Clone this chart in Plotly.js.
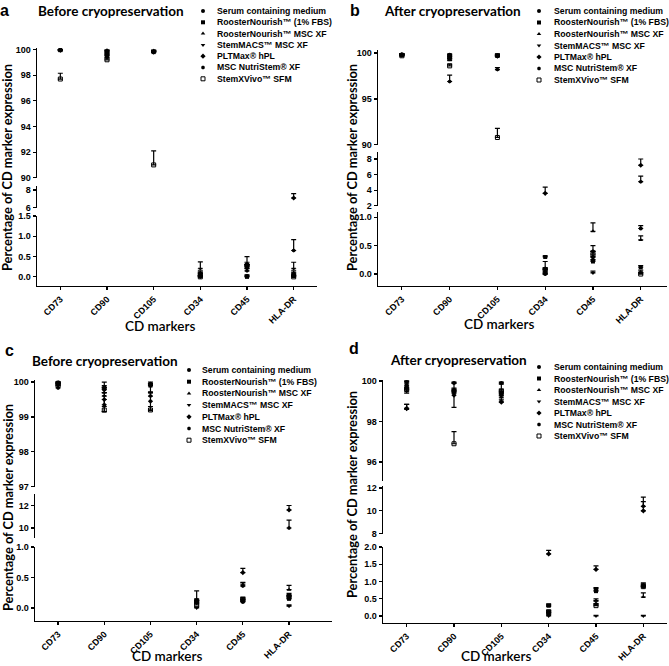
<!DOCTYPE html>
<html><head><meta charset="utf-8">
<script src="https://cdn.plot.ly/plotly-3.0.1.min.js"></script>
<style>html,body{margin:0;padding:0;background:#fff}#chart{width:669px;height:666px}</style>
</head><body><div id="chart"></div>
<script>
const categories = ["CD73","CD90","CD105","CD34","CD45","HLA-DR"];
const seriesNames = ["Serum containing medium","RoosterNourish™ (1% FBS)","RoosterNourish™ MSC XF","StemMACS™ MSC XF","PLTMax® hPL","MSC NutriStem® XF","StemXVivo™ SFM"];
const symbols = ["circle","square","triangle-up","triangle-down","diamond","hexagon","square-open"];

// Panel a — Before cryopreservation (rows = series, cols = categories)
const aValues = [
  [99.98, 99.85, 99.85, 0.00, 0.02, 0.05],
  [99.95, 99.70, 99.80, 0.05, 0.00, 0.02],
  [99.95, 99.50, 99.90, 0.10, 0.25, 0.10],
  [99.90, 99.60, 99.75, 0.20, 0.20, 0.20],
  [99.98, 99.90, 99.85, 0.02, 0.30, 7.10],
  [99.95, 99.40, 99.80, 0.08, 0.15, 0.65],
  [97.70, 99.20, 91.00, 0.00, 0.28, 0.00]
];
const aErrUp = [
  [0.02, 0.10, 0.05, 0.03, 0.03, 0.04],
  [0.03, 0.10, 0.10, 0.04, 0.02, 0.03],
  [0.03, 0.15, 0.05, 0.05, 0.05, 0.05],
  [0.05, 0.15, 0.08, 0.17, 0.10, 0.16],
  [0.02, 0.05, 0.08, 0.03, 0.20, 0.50],
  [0.03, 0.15, 0.10, 0.04, 0.06, 0.27],
  [0.45, 0.15, 1.10, 0.03, 0.08, 0.03]
];
const aErrDown = [
  [0,0,0,0,0,0],[0,0,0,0,0,0],[0,0,0,0,0,0],[0,0,0,0,0,0],
  [0,0,0,0,0,0],[0,0,0,0,0,0],[0,0,0,0,0,0]
];

// Panel b — After cryopreservation
const bValues = [
  [99.85, 99.80, 99.75, 0.00, 0.25, 0.80],
  [99.80, 99.50, 99.70, 0.30, 0.22, 0.12],
  [99.75, 99.20, 99.60, 0.10, 0.75, 0.60],
  [99.70, 99.70, 99.80, 0.00, 0.02, 0.03],
  [99.80, 99.40, 99.65, 3.60, 0.30, 7.20],
  [99.85, 96.90, 98.20, 0.05, 0.40, 5.10],
  [99.70, 98.60, 90.80, 0.08, 0.35, 0.00]
];
const bErrUp = [
  [0.10, 0.10, 0.10, 0.02, 0.05, 0.05],
  [0.10, 0.15, 0.10, 0.02, 0.03, 0.03],
  [0.10, 0.15, 0.10, 0.12, 0.15, 0.07],
  [0.10, 0.10, 0.10, 0.02, 0.03, 0.04],
  [0.10, 0.20, 0.10, 0.80, 0.10, 0.80],
  [0.10, 0.70, 0.20, 0.03, 0.10, 0.70],
  [0.10, 0.20, 1.00, 0.03, 0.05, 0.02]
];
const bErrDown = [
  [0,0,0,0,0,0],[0,0,0,0,0,0],[0,0,0,0,0,0],[0,0,0,0,0,0],
  [0,0,0,0,0,0],[0,0,0,0,0,0],[0,0,0,0,0,0]
];

// Panel c — Before cryopreservation
const cValues = [
  [99.95, 99.85, 99.95, 0.12, 0.10, 0.20],
  [99.98, 99.80, 99.90, 0.10, 0.12, 0.15],
  [100.00, 99.70, 99.70, 0.08, 0.38, 0.30],
  [99.90, 99.60, 99.90, 0.00, 0.11, 0.03],
  [99.95, 99.50, 99.45, 0.13, 0.58, 11.60],
  [99.83, 99.35, 99.60, 0.09, 0.36, 10.00],
  [99.90, 99.20, 99.20, 0.05, 0.14, 0.18]
];
const cErrUp = [
  [0.03, 0.15, 0.05, 0.03, 0.05, 0.04],
  [0.02, 0.10, 0.05, 0.03, 0.06, 0.05],
  [0.00, 0.10, 0.25, 0.03, 0.04, 0.07],
  [0.05, 0.10, 0.05, 0.02, 0.03, 0.02],
  [0.05, 0.35, 0.27, 0.15, 0.07, 0.40],
  [0.17, 0.15, 0.10, 0.03, 0.05, 0.70],
  [0.05, 0.10, 0.10, 0.03, 0.03, 0.04]
];
const cErrDown = [
  [0,0,0,0,0,0],[0,0,0,0,0,0],[0,0,0,0,0,0],[0,0,0,0,0,0],
  [0,0.35,0.27,0,0,0],[0,0,0,0,0,0],[0,0.05,0,0,0,0]
];

// Panel d — After cryopreservation
const dValues = [
  [99.95, 99.90, 99.90, 0.10, 0.75, 0.85],
  [99.70, 99.50, 99.40, 0.30, 0.72, 0.88],
  [99.50, 99.40, 99.20, 0.28, 0.45, 0.55],
  [98.60, 99.45, 99.00, 0.00, 0.00, 0.00],
  [98.65, 99.30, 98.95, 1.80, 1.35, 10.00],
  [99.80, 99.55, 99.30, 0.05, 0.35, 10.40],
  [99.60, 96.90, 99.50, 0.12, 0.30, 0.85]
];
const dErrUp = [
  [0.05, 0.05, 0.05, 0.05, 0.05, 0.05],
  [0.30, 0.10, 0.10, 0.05, 0.10, 0.08],
  [0.10, 0.10, 0.10, 0.05, 0.05, 0.12],
  [0.25, 0.10, 0.10, 0.03, 0.02, 0.02],
  [0.20, 0.60, 0.90, 0.10, 0.10, 1.20],
  [0.10, 0.10, 0.10, 0.04, 0.08, 0.40],
  [0.10, 0.60, 0.10, 0.05, 0.05, 0.08]
];
const dErrDown = [
  [0,0,0,0,0,0],[0.3,0,0,0,0,0],[0,0,0,0,0,0],[0,0,0,0,0,0],
  [0,0.6,0,0,0,0],[0,0,0,0,0,0],[0,0,0,0,0,0]
];

const W = 669, H = 666;
const px = v => v / W;
const py = v => 1 - v / H;
const axId = (l, n) => n === 1 ? l : l + n;
const axKey = (l, n) => l + 'axis' + (n === 1 ? '' : n);

// layout geometry (pixels)
const panels = [
  { letter:'a', title:'Before cryopreservation', values:aValues, up:aErrUp, down:aErrDown,
    xDom:[37,317], xRange:[-0.5,5.5],
    segs:[{dom:[286,216], range:[-0.225,1.5], dtick:0.5, fmt:'.1f'},
          {dom:[208,186], range:[5.98,8.45], dtick:2},
          {dom:[178,48],  range:[89.98,100.12], dtick:2}],
    letterPos:[4,0], titlePos:[36,11], yTitlePos:[7,168], xTitlePos:[160,326],
    legMarkX:203, legTextX:215, legY0:11, legDy:11.3 },
  { letter:'b', title:'After cryopreservation', values:bValues, up:bErrUp, down:bErrDown,
    xDom:[378,667], xRange:[-0.5,5.55],
    segs:[{dom:[286,212], range:[-0.21,1.09], dtick:0.5, fmt:'.1f'},
          {dom:[206,152], range:[1.98,8.9], dtick:2},
          {dom:[145,50],  range:[89.98,100.33], dtick:5}],
    letterPos:[355,0], titlePos:[382,11], yTitlePos:[352,168], xTitlePos:[499,324],
    legMarkX:539, legTextX:552, legY0:11, legDy:11.5 },
  { letter:'c', title:'Before cryopreservation', values:cValues, up:cErrUp, down:cErrDown,
    xDom:[35,332], xRange:[-0.5,5.93],
    segs:[{dom:[621,547], range:[-0.213,1.0], dtick:0.5, fmt:'.1f'},
          {dom:[538,494], range:[9.11,13.02], dtick:2},
          {dom:[487,380], range:[96.99,100.06], dtick:1}],
    letterPos:[9,340], titlePos:[30,361], yTitlePos:[8,508], xTitlePos:[167,656],
    legMarkX:189, legTextX:200, legY0:370, legDy:11.7 },
  { letter:'d', title:'After cryopreservation', values:dValues, up:dErrUp, down:dErrDown,
    xDom:[383,667], xRange:[-0.5,5.5],
    segs:[{dom:[623,547], range:[-0.203,2.0], dtick:0.5, fmt:'.1f'},
          {dom:[534,486], range:[7.98,12.17], dtick:2},
          {dom:[481,380], range:[95.06,100.05], dtick:2}],
    letterPos:[354,338], titlePos:[388,360], yTitlePos:[352,495], xTitlePos:[496,656],
    legMarkX:539, legTextX:552, legY0:367, legDy:11.5 }
];

const tickFont = {family:'Arial', size:9, weight:'bold', color:'#000'};
const traces = [];
const layout = {
  width:W, height:H, margin:{l:0,r:0,t:0,b:0},
  paper_bgcolor:'#fff', plot_bgcolor:'rgba(0,0,0,0)',
  showlegend:false, font:{family:'Arial', color:'#000'},
  annotations:[]
};

panels.forEach((p, pi) => {
  const xn = pi + 1;
  const xId = axId('x', xn);
  const bottomY = axId('y', pi*3 + 1);
  layout[axKey('x', xn)] = {
    domain:[px(p.xDom[0]), px(p.xDom[1])], range:p.xRange, type:'category',
    anchor:bottomY, showline:true, linecolor:'#000', linewidth:1.4,
    ticks:'outside', ticklen:3, tickwidth:1.2, tickcolor:'#000',
    tickangle:-45, tickfont:tickFont, showgrid:false, zeroline:false, fixedrange:true
  };
  p.segs.forEach((s, si) => {
    const yn = pi*3 + si + 1;
    const yId = axId('y', yn);
    layout[axKey('y', yn)] = {
      domain:[py(s.dom[0]), py(s.dom[1])], range:s.range, anchor:xId,
      showline:true, linecolor:'#000', linewidth:1.4,
      ticks:'outside', ticklen:3, tickwidth:1.2, tickcolor:'#000',
      dtick:s.dtick, tick0:0, tickformat:s.fmt || '', tickfont:tickFont,
      showgrid:false, zeroline:false, fixedrange:true
    };
    seriesNames.forEach((name, i) => {
      const open = symbols[i].indexOf('open') >= 0;
      traces.push({
        type:'scatter', mode:'markers', name:name,
        x:categories, y:p.values[i], xaxis:xId, yaxis:yId,
        marker:{symbol:symbols[i], size:4, color:'#000', line:{width:open?1:0, color:'#000'}},
        error_y:{type:'data', symmetric:false, array:p.up[i], arrayminus:p.down[i],
                 color:'#000', thickness:1.2, width:2.5},
        cliponaxis:true, hoverinfo:'skip'
      });
    });
  });

  // legend markers (on full-page overlay axes)
  traces.push({
    type:'scatter', mode:'markers', x:seriesNames.map(() => p.legMarkX),
    y:seriesNames.map((_, i) => p.legY0 + i * p.legDy),
    xaxis:'x5', yaxis:'y13', cliponaxis:false, hoverinfo:'skip',
    marker:{symbol:symbols, size:4, color:'#000', line:{width:symbols.map(s => s.indexOf('open')>=0?1:0), color:'#000'}}
  });
  seriesNames.forEach((name, i) => {
    layout.annotations.push({xref:'paper', yref:'paper', x:px(p.legTextX), y:py(p.legY0 + i*p.legDy),
      xanchor:'left', yanchor:'middle', showarrow:false, text:name,
      font:{family:'Arial', size:8.7, weight:'bold', color:'#000'}});
  });

  // panel letter, title, axis titles
  layout.annotations.push({xref:'paper', yref:'paper', x:px(p.letterPos[0]), y:py(p.letterPos[1]),
    xanchor:'center', yanchor:'top', showarrow:false, text:p.letter,
    font:{family:'Arial', size:16, weight:'bold', color:'#000'}});
  layout.annotations.push({xref:'paper', yref:'paper', x:px(p.titlePos[0]), y:py(p.titlePos[1]),
    xanchor:'left', yanchor:'middle', showarrow:false, text:p.title,
    font:{family:'Lato', size:13.5, weight:'bold', color:'#000'}});
  layout.annotations.push({xref:'paper', yref:'paper', x:px(p.yTitlePos[0]), y:py(p.yTitlePos[1]),
    xanchor:'center', yanchor:'middle', showarrow:false, textangle:-90,
    text:'Percentage of CD marker expression',
    font:{family:'Lato', size:12.8, weight:'bold', color:'#000'}});
  layout.annotations.push({xref:'paper', yref:'paper', x:px(p.xTitlePos[0]), y:py(p.xTitlePos[1]),
    xanchor:'center', yanchor:'middle', showarrow:false, text:'CD markers',
    font:{family:'Lato', size:13.5, weight:600, color:'#000'}});
});

layout.xaxis5 = {domain:[0,1], range:[0,W], visible:false, anchor:'y13', fixedrange:true};
layout.yaxis13 = {domain:[0,1], range:[H,0], visible:false, anchor:'x5', fixedrange:true};

Plotly.newPlot('chart', traces, layout, {staticPlot:true, displayModeBar:false});
</script>
</body></html>
